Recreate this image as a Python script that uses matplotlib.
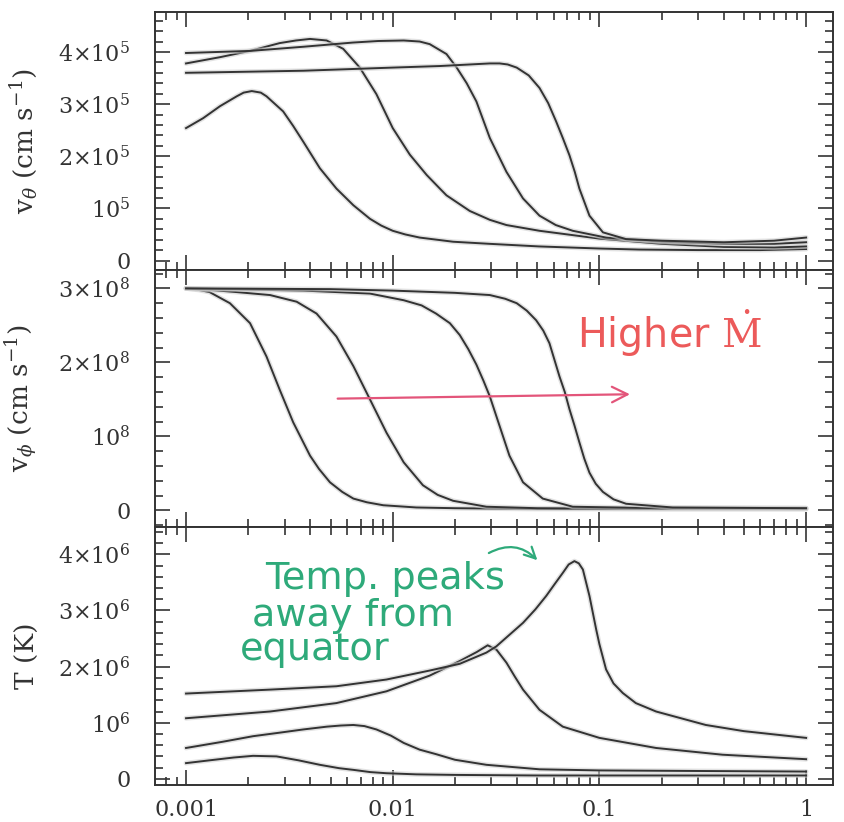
import numpy as np
import matplotlib.pyplot as plt
from matplotlib.ticker import MultipleLocator, LogLocator, NullFormatter

plt.rcParams['font.family'] = 'DejaVu Serif'
plt.rcParams['mathtext.fontset'] = 'dejavuserif'

# ---- v_theta, units of 1e5 cm/s (curve 1 = lowest Mdot) ----
vt1_x = [0.001, 0.00121, 0.00146, 0.00176, 0.0019, 0.00208, 0.0023, 0.00245, 0.00295, 0.0033,
         0.00369, 0.00444, 0.00534, 0.00645, 0.00776, 0.0088, 0.01, 0.0115, 0.0135, 0.0196,
         0.0294, 0.051, 0.1, 0.156, 0.3, 0.6, 1.0]
vt1_y = [2.54, 2.73, 2.96, 3.15, 3.22, 3.25, 3.22, 3.15, 2.86, 2.58,
         2.28, 1.77, 1.38, 1.06, 0.80, 0.67, 0.57, 0.50, 0.44, 0.36,
         0.32, 0.27, 0.23, 0.21, 0.20, 0.20, 0.22]

vt2_x = [0.001, 0.00146, 0.00204, 0.00284, 0.0034, 0.00398, 0.00479, 0.00576, 0.00693, 0.00834,
         0.01, 0.0121, 0.0146, 0.0169, 0.0182, 0.0236, 0.0295, 0.0355, 0.0513, 0.1,
         0.2, 0.4, 0.7, 1.0]
vt2_y = [3.78, 3.90, 4.02, 4.17, 4.22, 4.25, 4.22, 4.06, 3.70, 3.19,
         2.54, 2.03, 1.64, 1.38, 1.25, 0.95, 0.78, 0.68, 0.57, 0.42,
         0.32, 0.26, 0.25, 0.27]

vt3_x = [0.001, 0.00204, 0.0037, 0.0064, 0.0085, 0.0113, 0.0135, 0.0151, 0.0182, 0.0204,
         0.0228, 0.0254, 0.0295, 0.0355, 0.0427, 0.0513, 0.0615, 0.0743, 0.1076, 0.2,
         0.4, 0.7, 1.0]
vt3_y = [3.98, 4.02, 4.10, 4.18, 4.21, 4.22, 4.20, 4.15, 3.96, 3.70,
         3.40, 3.05, 2.35, 1.70, 1.19, 0.86, 0.68, 0.57, 0.44, 0.36,
         0.32, 0.32, 0.35]

vt4_x = [0.001, 0.0037, 0.01, 0.0169, 0.0295, 0.0329, 0.036, 0.0398, 0.0455, 0.0513,
         0.0565, 0.0617, 0.0665, 0.0716, 0.076, 0.080, 0.0895, 0.104, 0.1346, 0.2,
         0.4, 0.7, 1.0]
vt4_y = [3.60, 3.64, 3.70, 3.73, 3.78, 3.78, 3.76, 3.70, 3.55, 3.31,
         3.02, 2.67, 2.35, 2.02, 1.70, 1.38, 0.86, 0.54, 0.41, 0.38,
         0.35, 0.38, 0.44]

# ---- v_phi, units of 1e8 cm/s ----
vp1_x = [0.001, 0.00115, 0.0013, 0.00163, 0.00204, 0.00245, 0.00284, 0.0033, 0.00398, 0.0044,
         0.00497, 0.0057, 0.00645, 0.0075, 0.009, 0.013, 0.02, 0.05, 0.2, 1.0]
vp1_y = [3.0, 2.98, 2.95, 2.80, 2.53, 2.08, 1.63, 1.19, 0.74, 0.56,
         0.38, 0.25, 0.16, 0.11, 0.07, 0.04, 0.03, 0.02, 0.02, 0.02]

vp2_x = [0.001, 0.0013, 0.00176, 0.00255, 0.00343, 0.00428, 0.00534, 0.00645, 0.00776, 0.00933,
         0.0113, 0.014, 0.0165, 0.0196, 0.0284, 0.05, 0.2, 1.0]
vp2_y = [3.0, 2.98, 2.95, 2.91, 2.82, 2.66, 2.35, 1.95, 1.50, 1.05,
         0.65, 0.34, 0.21, 0.13, 0.05, 0.03, 0.02, 0.02]

vp3_x = [0.001, 0.0037, 0.00776, 0.0113, 0.0138, 0.0162, 0.0189, 0.0211, 0.0232, 0.0254,
         0.0275, 0.0295, 0.0329, 0.0367, 0.0427, 0.0532, 0.0743, 0.2, 1.0]
vp3_y = [3.0, 2.97, 2.93, 2.84, 2.77, 2.66, 2.53, 2.37, 2.18, 1.97,
         1.75, 1.54, 1.14, 0.74, 0.38, 0.16, 0.05, 0.03, 0.03]

vp4_x = [0.001, 0.005, 0.01, 0.02, 0.0295, 0.035, 0.0398, 0.0445, 0.0494, 0.0535,
         0.0573, 0.0641, 0.068, 0.0716, 0.0757, 0.080, 0.0845, 0.0895, 0.096, 0.104,
         0.117, 0.1346, 0.226, 1.0]
vp4_y = [3.0, 2.99, 2.97, 2.94, 2.91, 2.86, 2.80, 2.70, 2.57, 2.43,
         2.26, 1.81, 1.60, 1.37, 1.15, 0.92, 0.70, 0.51, 0.36, 0.25,
         0.15, 0.09, 0.04, 0.03]

# ---- temperature, units of 1e6 K ----
T1_x = [0.001, 0.0013, 0.0017, 0.00211, 0.00274, 0.0035, 0.00444, 0.0055, 0.00645, 0.0078,
        0.00933, 0.013, 0.02, 0.05, 0.2, 1.0]
T1_y = [0.28, 0.33, 0.38, 0.41, 0.40, 0.33, 0.25, 0.19, 0.16, 0.12,
        0.10, 0.08, 0.07, 0.06, 0.06, 0.06]

T2_x = [0.001, 0.0015, 0.00211, 0.0028, 0.00369, 0.0048, 0.0056, 0.00645, 0.0073, 0.00834,
        0.0098, 0.0113, 0.0135, 0.0162, 0.02, 0.0284, 0.0513, 0.1, 0.3, 1.0]
T2_y = [0.55, 0.66, 0.76, 0.82, 0.88, 0.93, 0.95, 0.96, 0.94, 0.88,
        0.77, 0.64, 0.52, 0.44, 0.34, 0.25, 0.17, 0.15, 0.14, 0.13]

T3_x = [0.001, 0.00255, 0.00534, 0.00933, 0.0151, 0.0211, 0.0255, 0.0288, 0.0318, 0.0355,
        0.039, 0.0427, 0.0513, 0.0665, 0.1, 0.188, 0.394, 1.0]
T3_y = [1.08, 1.20, 1.35, 1.56, 1.84, 2.10, 2.26, 2.38, 2.30, 2.07,
        1.82, 1.59, 1.23, 0.93, 0.73, 0.55, 0.43, 0.35]

T4_x = [0.001, 0.00255, 0.00534, 0.00933, 0.0151, 0.0211, 0.0284, 0.0317, 0.0427, 0.049,
        0.0553, 0.061, 0.0665, 0.071, 0.0757, 0.0795, 0.0832, 0.0895, 0.0965, 0.1,
        0.1077, 0.117, 0.1297, 0.15, 0.188, 0.327, 0.5, 1.0]
T4_y = [1.52, 1.59, 1.65, 1.77, 1.93, 2.05, 2.25, 2.36, 2.78, 3.02,
        3.26, 3.48, 3.67, 3.82, 3.88, 3.84, 3.73, 3.26, 2.66, 2.40,
        1.95, 1.70, 1.53, 1.35, 1.20, 0.96, 0.85, 0.73]

ink = '#333333'

fig, axes = plt.subplots(3, 1, sharex=True, figsize=(8.44, 8.22), dpi=100)
fig.subplots_adjust(left=0.184, right=0.987, bottom=0.045, top=0.985, hspace=0)

panels = [
    (axes[0], [(vt1_x, vt1_y), (vt2_x, vt2_y), (vt3_x, vt3_y), (vt4_x, vt4_y)], (-0.18, 4.76),
     [0, 1, 2, 3, 4], ['0', r'$10^5$', r'$2{\times}10^5$', r'$3{\times}10^5$', r'$4{\times}10^5$'],
     r'v$_\theta$ (cm s$^{-1}$)'),
    (axes[1], [(vp1_x, vp1_y), (vp2_x, vp2_y), (vp3_x, vp3_y), (vp4_x, vp4_y)], (-0.23, 3.25),
     [0, 1, 2, 3], ['0', r'$10^8$', r'$2{\times}10^8$', r'$3{\times}10^8$'],
     r'v$_\phi$ (cm s$^{-1}$)'),
    (axes[2], [(T1_x, T1_y), (T2_x, T2_y), (T3_x, T3_y), (T4_x, T4_y)], (-0.11, 4.48),
     [0, 1, 2, 3, 4], ['0', r'$10^6$', r'$2{\times}10^6$', r'$3{\times}10^6$', r'$4{\times}10^6$'],
     'T (K)'),
]

for ax, curves, ylim, yt, ylab, label in panels:
    for cx, cy in curves:
        ax.plot(cx, cy, color='#cfcfcf', lw=3.5, alpha=0.6, solid_capstyle='round')
        ax.plot(cx, cy, color=ink, lw=1.4)
    ax.set_xscale('log')
    ax.set_xlim(0.00071, 1.35)
    ax.set_ylim(*ylim)
    ax.set_yticks(yt)
    ax.set_yticklabels(ylab)
    ax.yaxis.set_minor_locator(MultipleLocator(0.2))
    ax.xaxis.set_minor_locator(LogLocator(base=10, subs=np.arange(2, 10)))
    ax.xaxis.set_minor_formatter(NullFormatter())
    ax.tick_params(which='both', direction='in', top=True, right=True,
                   colors=ink, labelsize=16, width=1.2)
    ax.tick_params(which='major', length=11)
    ax.tick_params(which='minor', length=6)
    ax.tick_params(axis='y', pad=18)
    ax.tick_params(axis='x', pad=10)
    ax.set_ylabel(label, fontsize=19, color=ink)
    ax.yaxis.set_label_coords(-0.17, 0.5)
    for s in ax.spines.values():
        s.set_linewidth(1.4)
        s.set_color(ink)

axes[2].set_xticks([0.001, 0.01, 0.1, 1])
axes[2].set_xticklabels(['0.001', '0.01', '0.1', '1'])

# hand-written notes
axes[1].annotate('', xy=(0.145, 1.57), xytext=(0.00525, 1.51),
                 arrowprops=dict(arrowstyle='->', color='#e3557a', lw=1.6,
                                 mutation_scale=28))
axes[1].text(0.078, 2.19, r'Higher $\dot{\rm M}$', color='#ec5a5a', fontsize=28.5,
             family='DejaVu Sans', ha='left', va='baseline')

green = '#2eaa7a'
axes[2].text(0.00241, 3.375, 'Temp. peaks', color=green, fontsize=27.5,
             family='DejaVu Sans', ha='left', va='baseline')
axes[2].text(0.00208, 2.72, 'away from', color=green, fontsize=27.5,
             family='DejaVu Sans', ha='left', va='baseline')
axes[2].text(0.00182, 2.125, 'equator', color=green, fontsize=27.5,
             family='DejaVu Sans', ha='left', va='baseline')
axes[2].annotate('', xy=(0.0512, 3.86), xytext=(0.0284, 4.0),
                 arrowprops=dict(arrowstyle='->', color=green, lw=1.6,
                                 mutation_scale=20,
                                 connectionstyle='arc3,rad=-0.4'))

fig.savefig('out.png', dpi=100)
